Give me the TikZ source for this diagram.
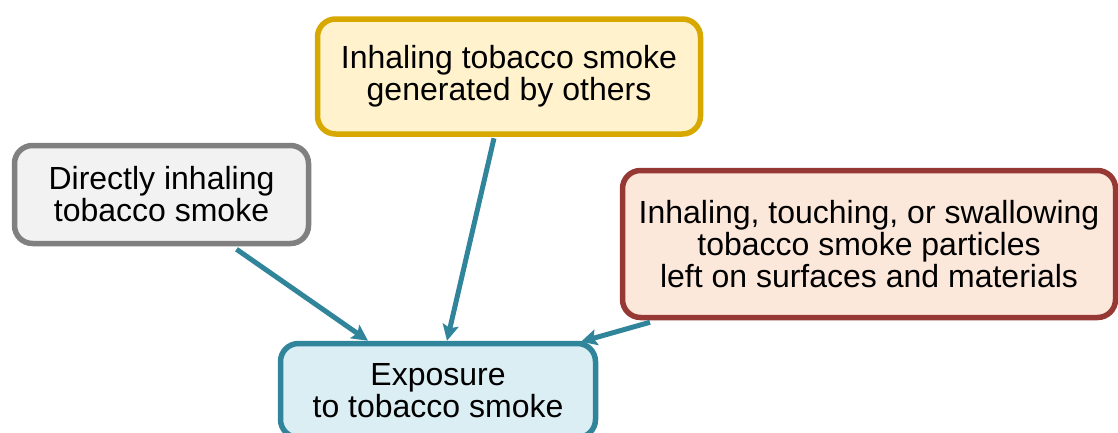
\documentclass[tikz,border=0pt]{standalone}
\usepackage{fontspec}
\setmainfont{Liberation Sans}
\usetikzlibrary{arrows.meta}
\definecolor{tealc}{RGB}{49,133,155}
\definecolor{tealf}{RGB}{219,238,244}
\definecolor{goldc}{RGB}{215,168,0}
\definecolor{goldf}{RGB}{255,242,204}
\definecolor{grayc}{RGB}{128,128,128}
\definecolor{grayf}{RGB}{242,242,242}
\definecolor{redc}{RGB}{150,56,52}
\definecolor{redf}{RGB}{252,232,219}
\begin{document}
\begin{tikzpicture}[x=1pt,y=-1pt,
  box/.style={rectangle, rounded corners=18pt, line width=5.5pt, inner sep=0pt, align=center,
    font=\fontsize{32}{32}\selectfont},
  conn/.style={draw=tealc, line width=5pt, -{Stealth[length=16pt,width=16pt,inset=3pt]}}]
\useasboundingbox (0,0) rectangle (1118,432);
\clip (0,0) rectangle (1118,432);
\node[box, draw=goldc, fill=goldf, minimum width=383pt, minimum height=115pt] (top) at (509,76.5)
  {Inhaling tobacco smoke\\generated by others};
\node[box, draw=grayc, fill=grayf, minimum width=294pt, minimum height=98pt] (left) at (161.5,194.5)
  {Directly inhaling\\tobacco smoke};
\node[box, draw=redc, fill=redf, minimum width=493pt, minimum height=147pt] (right) at (869,244)
  {Inhaling, touching, or swallowing\\tobacco smoke particles\\left on surfaces and materials};
\node[box, draw=tealc, fill=tealf, minimum width=315pt, minimum height=94pt] (bot) at (438,390.5)
  {Exposure\\to tobacco smoke};
\draw[conn] ([xshift=75pt,yshift=-3pt]left.south) -- ([xshift=-70pt]bot.north);
\draw[conn] ([xshift=-15pt,yshift=-1.5pt]top.south) -- ([xshift=9pt]bot.north);
\draw[conn] ([xshift=-219pt,yshift=-2pt]right.south) -- ([xshift=143pt,yshift=-1pt]bot.north);
\end{tikzpicture}
\end{document}
